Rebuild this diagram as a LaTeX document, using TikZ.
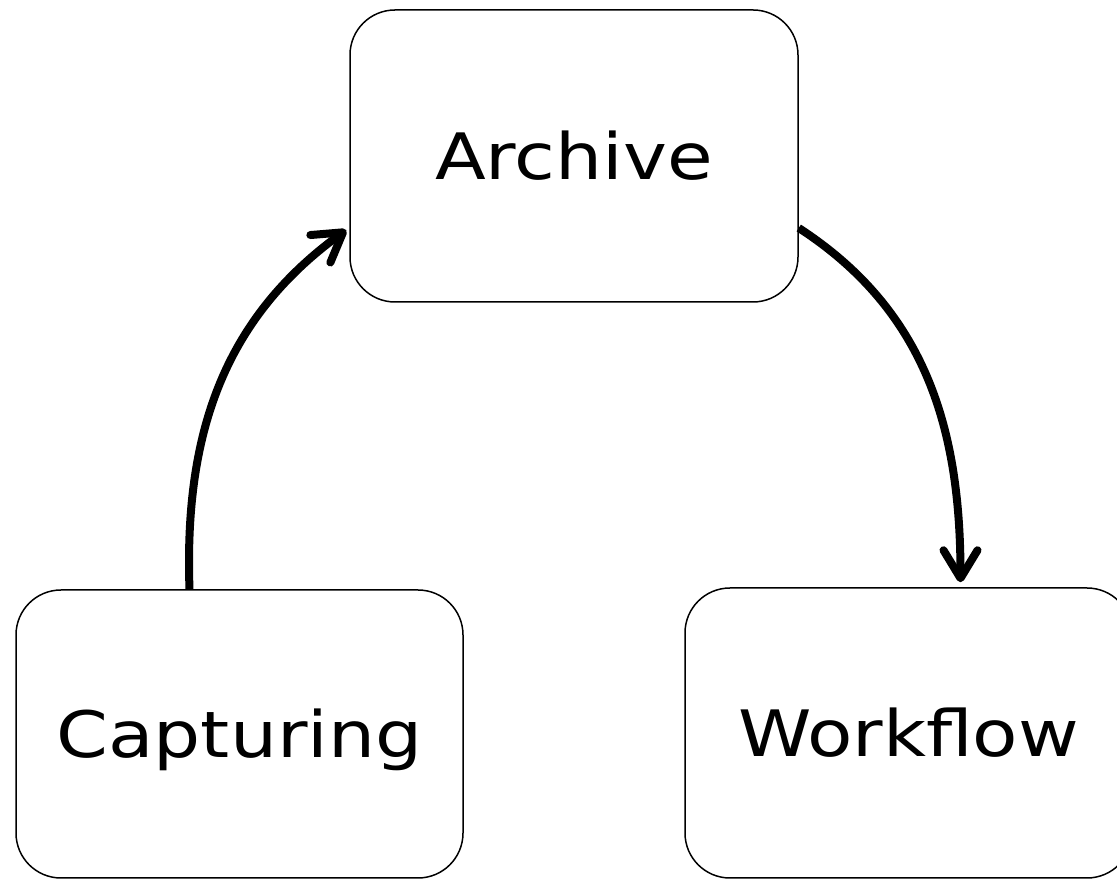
\documentclass[tikz,border=0pt]{standalone}
\usepackage{fontspec}
\newfontfamily\boxfont[FakeStretch=1.16]{DejaVu Sans}
\usetikzlibrary{arrows.meta}
\begin{document}
\begin{tikzpicture}[x=1pt,y=1pt,
  stagebox/.style={draw=black,line width=1.5pt,rounded corners=45pt,fill=white,
    minimum width=447pt,inner sep=0pt,text height=46.7pt,text depth=0pt,
    font=\boxfont\fontsize{64}{77}\selectfont},
  cyclearrow/.style={draw=black,line width=8pt,-{Straight Barb[round,length=28pt,width=34pt]}}]
\definecolor{fillColor}{RGB}{255,255,255}
\path[use as bounding box,fill=fillColor] (0,0) rectangle (1117,880);
\begin{scope}
\path[clip] (0,0) rectangle (1117,880);

\node[stagebox,minimum width=448pt,minimum height=292pt] (archive) at (574,724) {Archive};
\node[stagebox,minimum height=288pt] (capturing) at (239.5,146) {Capturing};
\node[stagebox,minimum height=290pt] (workflow) at (908.5,147) {Workflow};

\path[cyclearrow] ([xshift=-50pt]capturing.north) to[out=92,in=216] ([xshift=-3pt,yshift=-74pt]archive.west);
\path[cyclearrow] ([yshift=-72pt]archive.east) to[out=-33,in=90] ([xshift=52pt,yshift=5pt]workflow.north);
\end{scope}
\end{tikzpicture}
\end{document}
